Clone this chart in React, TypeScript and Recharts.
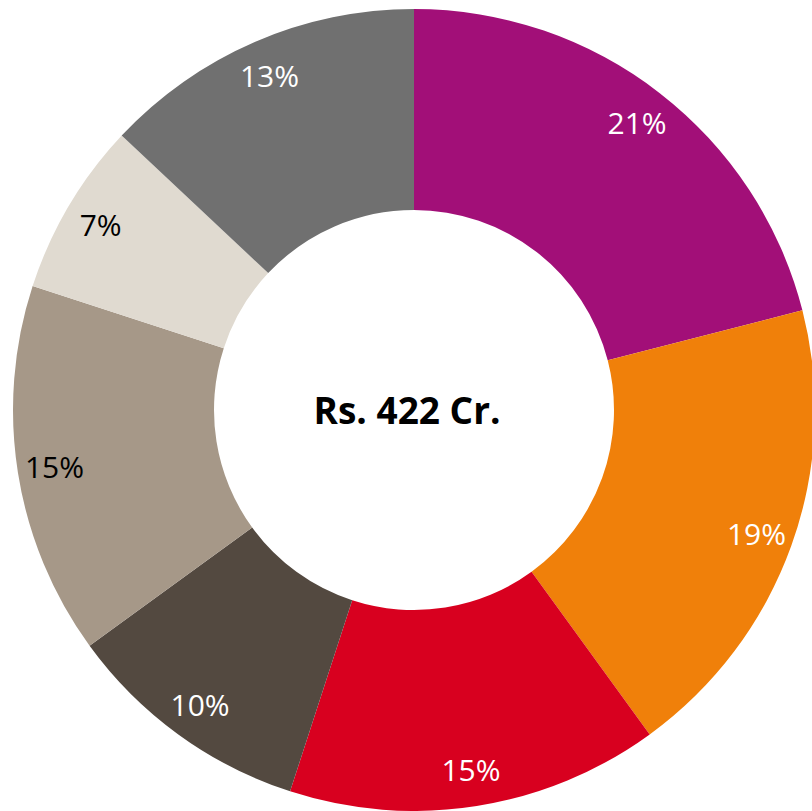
import React from "react";
import { PieChart, Pie, Cell } from "recharts";

const categories = ["A", "B", "C", "D", "E", "F", "G"];
const shares = [21, 19, 15, 10, 15, 7, 13];
const colors = ["#A20F78", "#F0800A", "#D8001F", "#534940", "#A69888", "#E0DAD0", "#707070"];
const labelColors = ["#FFFFFF", "#FFFFFF", "#FFFFFF", "#FFFFFF", "#000000", "#000000", "#FFFFFF"];
const centerText = "Rs. 422 Cr.";

const data = categories.map((name, i) => ({ name, value: shares[i] }));

const RAD = Math.PI / 180;

const renderLabel = (props: any) => {
  const { cx, cy, midAngle, index, value } = props;
  const r = 364;
  const x = cx + r * Math.cos(-midAngle * RAD);
  const y = cy + r * Math.sin(-midAngle * RAD);
  return (
    <text
      x={x}
      y={y}
      fill={labelColors[index]}
      textAnchor="middle"
      dominantBaseline="central"
      fontFamily="'Open Sans', sans-serif"
      fontSize={30}
    >
      {`${value}%`}
    </text>
  );
};

export default function App() {
  return (
    <div style={{ position: "absolute", left: 0, top: 0, width: 812, height: 811, background: "#fff" }}>
      <PieChart width={812} height={811} margin={{ top: 0, right: 0, bottom: 0, left: 0 }}>
        <Pie
          data={data}
          dataKey="value"
          cx={414}
          cy={410}
          innerRadius={200}
          outerRadius={401}
          startAngle={90}
          endAngle={-270}
          stroke="none"
          labelLine={false}
          label={renderLabel}
          isAnimationActive={false}
        >
          {data.map((d, i) => (
            <Cell key={d.name} fill={colors[i]} />
          ))}
        </Pie>
        <text
          x={407}
          y={409}
          textAnchor="middle"
          dominantBaseline="central"
          fontFamily="'Open Sans', sans-serif"
          fontWeight="bold"
          fontSize={37}
          fill="#000"
        >
          {centerText}
        </text>
      </PieChart>
    </div>
  );
}
